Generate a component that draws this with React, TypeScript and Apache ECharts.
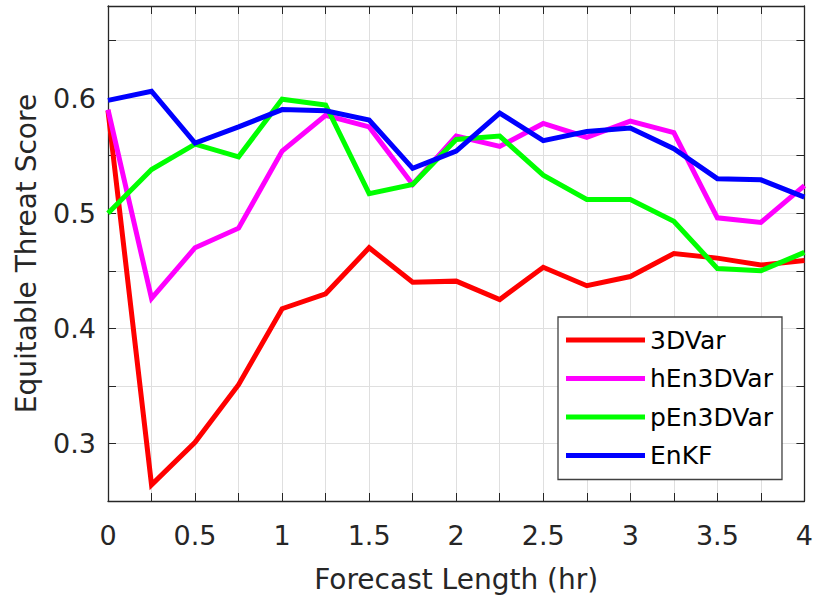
import React, { useEffect, useRef } from 'react';
import * as echarts from 'echarts';

const forecastHours = [0, 0.25, 0.5, 0.75, 1, 1.25, 1.5, 1.75, 2, 2.25, 2.5, 2.75, 3, 3.25, 3.5, 3.75, 4];
const seriesNames = ['3DVar', 'hEn3DVar', 'pEn3DVar', 'EnKF'];
const seriesColors = ['#ff0000', '#ff00ff', '#00ff00', '#0000ff'];
const ets3DVar = [0.589, 0.264, 0.301, 0.351, 0.417, 0.430, 0.470, 0.440, 0.441, 0.425, 0.453, 0.437, 0.445, 0.465, 0.461, 0.455, 0.459];
const etsHEn3DVar = [0.590, 0.426, 0.470, 0.487, 0.554, 0.585, 0.575, 0.525, 0.567, 0.558, 0.578, 0.566, 0.580, 0.570, 0.496, 0.492, 0.524];
const etsPEn3DVar = [0.500, 0.538, 0.560, 0.549, 0.599, 0.594, 0.517, 0.525, 0.564, 0.567, 0.533, 0.512, 0.512, 0.493, 0.452, 0.450, 0.466];
const etsEnKF = [0.598, 0.606, 0.561, 0.575, 0.590, 0.589, 0.581, 0.539, 0.554, 0.587, 0.563, 0.571, 0.574, 0.556, 0.530, 0.529, 0.514];
const allSeries = [ets3DVar, etsHEn3DVar, etsPEn3DVar, etsEnKF];

const FONT = 'DejaVu Sans, sans-serif';
const AXIS_COLOR = '#262626';
const GRID_COLOR = '#dfdfdf';

export default function App() {
  const ref = useRef<HTMLDivElement>(null);
  useEffect(() => {
    document.body.style.margin = '0';
    const chart = echarts.init(ref.current!, null, { renderer: 'svg' });
    const xFmt = (v: number) => (Math.abs(v * 2 - Math.round(v * 2)) < 1e-6 ? String(Math.round(v * 10) / 10) : '');
    const yFmt = (v: number) => (Math.abs(v * 10 - Math.round(v * 10)) < 1e-6 ? (Math.round(v * 10) / 10).toFixed(1) : '');
    const tickStyle = () => ({ show: true, inside: true, length: 8, lineStyle: { color: AXIS_COLOR, width: 1 } });
    const lineStyleAxis = () => ({ show: true, onZero: false, lineStyle: { color: AXIS_COLOR, width: 1.3 } });
    chart.setOption({
      animation: false,
      backgroundColor: '#ffffff',
      textStyle: { fontFamily: FONT },
      grid: { left: 108, top: 6, right: 10, bottom: 98, containLabel: false },
      xAxis: [
        {
          type: 'value', position: 'bottom', min: 0, max: 4, interval: 0.25,
          axisLine: lineStyleAxis(), axisTick: tickStyle(),
          axisLabel: { formatter: xFmt, fontSize: 27, color: AXIS_COLOR, margin: 21, fontFamily: FONT, showMinLabel: true, showMaxLabel: true },
          splitLine: { show: true, lineStyle: { color: GRID_COLOR, width: 1 } },
          name: 'Forecast Length (hr)', nameLocation: 'middle', nameGap: 64,
          nameTextStyle: { fontSize: 28, color: AXIS_COLOR, fontFamily: FONT },
        },
        {
          type: 'value', position: 'top', min: 0, max: 4, interval: 0.25,
          axisLine: lineStyleAxis(), axisTick: tickStyle(), axisLabel: { show: false }, splitLine: { show: false },
        },
      ],
      yAxis: [
        {
          type: 'value', position: 'left', min: 0.25, max: 0.68, interval: 0.05,
          axisLine: lineStyleAxis(), axisTick: tickStyle(),
          axisLabel: { formatter: yFmt, fontSize: 27, color: AXIS_COLOR, margin: 12, fontFamily: FONT },
          splitLine: { show: true, lineStyle: { color: GRID_COLOR, width: 1 } },
          name: 'Equitable Threat Score', nameLocation: 'middle', nameGap: 68,
          nameTextStyle: { fontSize: 28, color: AXIS_COLOR, fontFamily: FONT },
        },
        {
          type: 'value', position: 'right', min: 0.25, max: 0.68, interval: 0.05,
          axisLine: lineStyleAxis(), axisTick: tickStyle(), axisLabel: { show: false }, splitLine: { show: false },
        },
      ],
      legend: {
        left: 558, top: 317, orient: 'vertical',
        padding: [10.5, 9, 11.5, 8], itemGap: 13.5,
        itemWidth: 79, itemHeight: 5, icon: 'rect',
        backgroundColor: '#ffffff', borderColor: '#404040', borderWidth: 1.3, borderRadius: 0,
        textStyle: { fontSize: 25, color: '#000000', fontFamily: FONT },
        data: seriesNames,
      },
      series: seriesNames.map((name, i) => ({
        name, type: 'line',
        data: forecastHours.map((h, j) => [h, allSeries[i][j]]),
        showSymbol: false, symbol: 'none',
        lineStyle: { color: seriesColors[i], width: 5, join: 'miter' },
        itemStyle: { color: seriesColors[i] },
        clip: true,
      })),
    });
    return () => chart.dispose();
  }, []);
  return <div ref={ref} style={{ width: 816, height: 599 }} />;
}
